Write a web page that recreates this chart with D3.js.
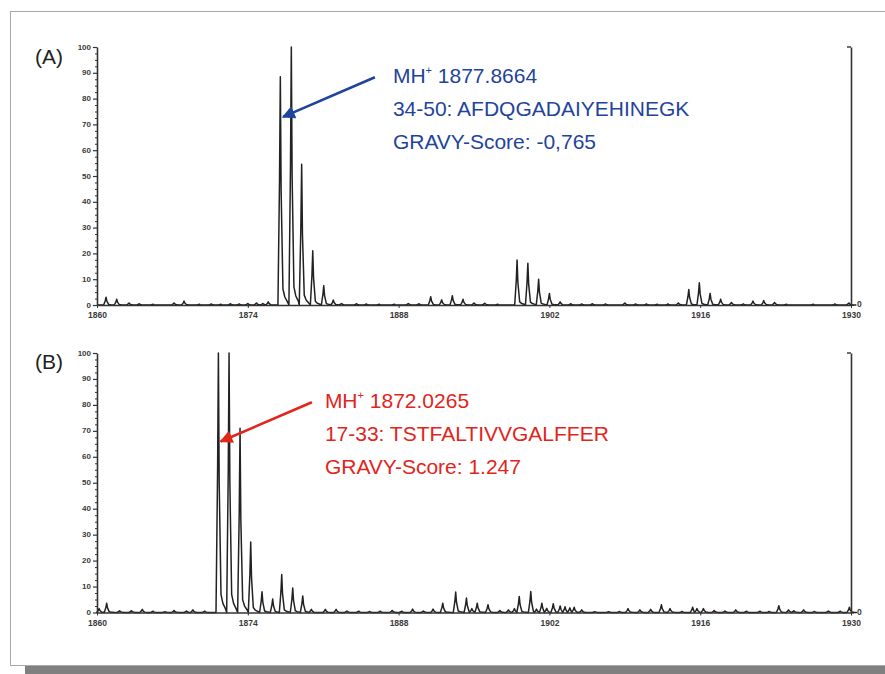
<!DOCTYPE html>
<html>
<head>
<meta charset="utf-8">
<script src="https://cdn.jsdelivr.net/npm/d3@7"></script>
<style>
  body { margin: 0; background: #fff; }
  svg { display: block; font-family: "Liberation Sans", Arial, sans-serif; }
  .tick text { font-weight: bold; fill: #3a3a3a; }
</style>
</head>
<body>
<div id="chart"></div>
<script>
var width = 885, height = 674;

// axis ticks
var xTicks = [1860, 1874, 1888, 1902, 1916, 1930];
var yTicks = [0, 10, 20, 30, 40, 50, 60, 70, 80, 90, 100];
var yMinor = [2.5, 5, 7.5, 12.5, 15, 17.5, 22.5, 25, 27.5, 32.5, 35, 37.5, 42.5, 45, 47.5,
              52.5, 55, 57.5, 62.5, 65, 67.5, 72.5, 75, 77.5, 82.5, 85, 87.5, 92.5, 95, 97.5];

// peaks [m/z, relative intensity]
var peaksA = [
  [1860.84, 3.0], [1861.83, 2.2], [1862.97, 0.8], [1863.93, 0.5], [1865.2, 0.3],
  [1867.15, 0.8], [1868.08, 1.5], [1869.5, 0.3], [1870.6, 0.4], [1871.5, 0.3],
  [1872.4, 0.5], [1873.2, 0.4], [1874.0, 0.6], [1874.8, 0.8], [1875.4, 0.6], [1875.9, 1.2],
  [1877.02, 88.5], [1878.04, 100], [1879.0, 54.6], [1880.03, 21], [1881.05, 7.5],
  [1881.94, 1.9], [1882.7, 0.6], [1884.1, 0.5], [1885.0, 0.4], [1886.2, 0.3],
  [1887.6, 0.3], [1888.9, 0.6], [1889.9, 0.5], [1890.98, 3.2], [1892.0, 2.0],
  [1892.99, 3.6], [1893.98, 2.2], [1895.0, 0.8], [1896.0, 0.7], [1897.2, 0.3],
  [1899.0, 17.4], [1900.0, 16.2], [1901.0, 10], [1902.0, 4.5], [1903.0, 1.2],
  [1904.0, 0.5], [1905.0, 0.4], [1906.0, 0.5], [1907.2, 0.4], [1909.0, 0.8],
  [1910.0, 0.4], [1911.0, 0.4], [1912.0, 0.3], [1913.0, 0.4], [1913.97, 0.8],
  [1914.94, 6.0], [1915.92, 8.6], [1916.92, 4.5], [1917.9, 2.2], [1918.9, 1.0],
  [1920.0, 0.4], [1920.9, 1.5], [1921.9, 1.7], [1922.9, 1.0], [1924.0, 0.3],
  [1926.5, 0.3], [1928.5, 0.4], [1929.8, 0.8]
];

var peaksB = [
  [1860.2, 1.5], [1860.9, 3.6], [1862.1, 0.7], [1863.2, 0.7], [1864.2, 1.2],
  [1865.2, 0.5], [1866.3, 0.3], [1867.15, 0.8], [1868.3, 0.6], [1868.9, 1.0],
  [1870.0, 0.5], [1871.27, 100], [1872.26, 100], [1873.28, 71], [1874.27, 27.2],
  [1875.32, 8], [1876.31, 5.2], [1877.15, 14.6], [1878.17, 9.4], [1879.1, 6.4],
  [1879.9, 1.2], [1881.2, 1.2], [1882.2, 1.2], [1883.2, 0.6], [1884.3, 0.5],
  [1885.3, 0.4], [1886.3, 0.5], [1887.4, 0.8], [1888.3, 0.5], [1889.3, 1.3],
  [1890.3, 0.6], [1891.2, 1.3], [1892.1, 3.6], [1893.3, 7.9], [1894.3, 5.6],
  [1894.8, 1.5], [1895.3, 3.6], [1896.3, 3.0], [1897.4, 0.8], [1898.2, 1.0],
  [1898.75, 1.5], [1899.2, 6.2], [1900.27, 8.1], [1900.8, 1.3], [1901.3, 3.6],
  [1901.75, 1.6], [1902.36, 3.4], [1903.0, 2.5], [1903.45, 2.2], [1903.9, 1.8],
  [1904.3, 2.0], [1905.0, 1.0], [1906.2, 0.3], [1907.5, 0.3], [1908.5, 0.4],
  [1909.3, 1.5], [1910.4, 1.0], [1911.4, 1.2], [1912.4, 3.0], [1913.2, 1.5],
  [1914.3, 0.4], [1915.3, 2.0], [1915.7, 1.5], [1916.3, 1.5], [1917.3, 0.8],
  [1918.3, 0.6], [1919.3, 1.0], [1920.3, 0.5], [1921.55, 0.5], [1922.4, 0.4],
  [1923.3, 2.6], [1924.2, 1.0], [1924.7, 0.7], [1925.6, 1.0], [1926.6, 0.4],
  [1927.9, 0.6], [1929.0, 0.5], [1929.85, 2.0]
];

// annotations: arrow tail/tip in data coords, text lines
var noteA = { tail: [1885.8, 88.3], tip: [1877.27, 72.9], color: "#1f449c", gap: 18,
  mh: "1877.8664", lines: ["34-50: AFDQGADAIYEHINEGK", "GRAVY-Score: -0,765"] };
var noteB = { tail: [1879.95, 81.0], tip: [1871.48, 65.9], color: "#e1251b", gap: 13,
  mh: "1872.0265", lines: ["17-33: TSTFALTIVVGALFFER", "GRAVY-Score: 1.247"] };

var svg = d3.select("#chart").append("svg")
  .attr("width", width)
  .attr("height", height);

// page frame + shadow bar
svg.append("rect")
  .attr("x", 10.5).attr("y", 11.5)
  .attr("width", 900).attr("height", 654)
  .attr("fill", "none")
  .attr("stroke", "#a9a9a9")
  .attr("stroke-width", 1);
svg.append("rect")
  .attr("x", 25).attr("y", 666)
  .attr("width", 860).attr("height", 8)
  .attr("fill", "#808080");

var defs = svg.append("defs");
[noteA, noteB].forEach(function(n, i) {
  defs.append("marker")
    .attr("id", "head" + i)
    .attr("viewBox", "0 0 10 10")
    .attr("refX", 9).attr("refY", 5)
    .attr("markerWidth", 6).attr("markerHeight", 5)
    .attr("markerUnits", "strokeWidth")
    .attr("orient", "auto")
    .append("path")
    .attr("d", "M0,0 L10,5 L0,10 Z")
    .attr("fill", n.color);
  n.marker = "url(#head" + i + ")";
});

function panel(peaks, top, bottom, label, labelY, note) {
  var x = d3.scaleLinear().domain([1860, 1930]).range([97, 851]);
  var y = d3.scaleLinear().domain([0, 100]).range([bottom, top]);
  var g = svg.append("g");

  // spectrum trace: one spike per peak, baseline in between
  var pts = [{ mz: 1860, dx: 0, v: 0 }];
  peaks.forEach(function(p) {
    var shape = [[-2.4, 0], [-0.8, 0.55], [0, 1], [0.8, 0.5], [2.6, 0.07], [4.5, 0.035], [7, 0.015]];
    var first = x(p[0]) + shape[0][0];
    while (pts.length > 1) {
      var last = pts[pts.length - 1];
      if (x(last.mz) + last.dx >= first) pts.pop(); else break;
    }
    shape.forEach(function(s) { pts.push({ mz: p[0], dx: s[0], v: p[1] * s[1] }); });
  });
  pts.push({ mz: 1930, dx: 0, v: 0 });

  var line = d3.line()
    .x(function(d) { return x(d.mz) + d.dx; })
    .y(function(d) { return y(d.v); });

  g.append("path")
    .datum(pts)
    .attr("d", line)
    .attr("fill", "none")
    .attr("stroke", "#222")
    .attr("stroke-width", 1.5)
    .attr("stroke-linejoin", "round");

  // left axis
  g.append("g")
    .attr("transform", "translate(97,0)")
    .call(d3.axisLeft(y).tickValues(yMinor).tickSize(2).tickSizeOuter(0).tickFormat(""))
    .call(function(a) { a.select(".domain").remove(); a.selectAll("line").attr("stroke", "#333"); });
  g.append("g")
    .attr("transform", "translate(97,0)")
    .call(d3.axisLeft(y).tickValues(yTicks).tickSize(4).tickSizeOuter(0).tickPadding(2))
    .call(function(a) {
      a.select(".domain").attr("stroke", "#333").attr("stroke-width", 1.6);
      a.selectAll("line").attr("stroke", "#333").attr("stroke-width", 1.2);
      a.selectAll("text").attr("font-size", 8).attr("dy", "0.25em");
    });

  // bottom axis
  g.append("g")
    .attr("transform", "translate(0," + bottom + ")")
    .call(d3.axisBottom(x).tickValues(xTicks).tickSize(3).tickSizeOuter(0).tickPadding(4).tickFormat(d3.format("d")))
    .call(function(a) {
      a.select(".domain").attr("stroke", "#333").attr("stroke-width", 1.6);
      a.selectAll("line").attr("stroke", "#333");
      a.selectAll("text").attr("font-size", 8.5);
    });

  // right axis with only a 0 label
  g.append("g")
    .attr("transform", "translate(851,0)")
    .call(d3.axisRight(y).tickValues([0]).tickSize(3).tickSizeOuter(0).tickPadding(3))
    .call(function(a) {
      a.select(".domain").attr("stroke", "#333").attr("stroke-width", 1.6);
      a.selectAll("line").attr("stroke", "#333");
      a.selectAll("text").attr("font-size", 8.5).attr("dy", "0.2em");
    });
  g.append("line")
    .attr("x1", 847).attr("x2", 851)
    .attr("y1", y(100)).attr("y2", y(100))
    .attr("stroke", "#333").attr("stroke-width", 1.4);

  // panel label
  g.append("text")
    .attr("x", 35).attr("y", labelY)
    .attr("font-size", 21)
    .attr("fill", "#222")
    .text(label);

  // annotation arrow
  g.append("line")
    .attr("x1", x(note.tail[0])).attr("y1", y(note.tail[1]))
    .attr("x2", x(note.tip[0])).attr("y2", y(note.tip[1]))
    .attr("stroke", note.color)
    .attr("stroke-width", 2.6)
    .attr("marker-end", note.marker);

  var tx = x(note.tail[0]) + note.gap;
  var ty = y(note.tail[1]) + 6;
  var t = g.append("text")
    .attr("x", tx).attr("y", ty)
    .attr("font-size", 21)
    .attr("fill", note.color);
  t.append("tspan").text("MH");
  t.append("tspan").attr("font-size", 11).attr("dy", -9).text("+");
  t.append("tspan").attr("dy", 9).text(" " + note.mh);

  note.lines.forEach(function(s, i) {
    g.append("text")
      .attr("x", tx).attr("y", ty + 33 * (i + 1))
      .attr("font-size", 21)
      .attr("fill", note.color)
      .text(s);
  });
}

panel(peaksA, 47, 305, "(A)", 64, noteA);
panel(peaksB, 353, 612.5, "(B)", 369, noteB);
</script>
</body>
</html>
